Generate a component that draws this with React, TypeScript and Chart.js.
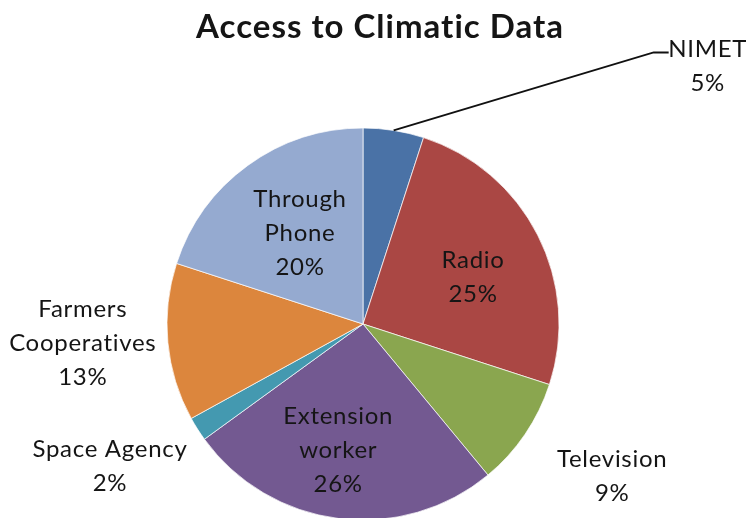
import React, { useEffect, useRef } from "react";
import { Chart, registerables } from "chart.js";

Chart.register(...registerables);

const titleText = "Access to Climatic Data";
const categories = ["NIMET", "Radio", "Television", "Extension worker", "Space Agency", "Farmers Cooperatives", "Through Phone"];
const nameLines = [["NIMET"], ["Radio"], ["Television"], ["Extension", "worker"], ["Space Agency"], ["Farmers", "Cooperatives"], ["Through", "Phone"]];
const values = [5, 25, 9, 26, 2, 13, 20];
const colors = ["#4A72A6", "#AA4744", "#8AA64F", "#735991", "#4499B0", "#DC863D", "#95AAD0"];

// label placement: fraction of radius along slice mid-angle, plus small pixel nudges
const labelLayout = [
  { f: 1.0, dx: 0, dy: 0, leader: true },
  { f: 0.63, dx: 0, dy: 8.5 },
  { f: 1.537, dx: 0, dy: -18 },
  { f: 0.643, dx: -9, dy: 0 },
  { f: 1.529, dx: 0, dy: -19.5 },
  { f: 1.436, dx: 0, dy: -8 },
  { f: 0.547, dx: 0, dy: -5 },
];

const FONT = "Lato, 'Open Sans', sans-serif";
const LINE_H = 34;

const labelPlugin = {
  id: "pieLabels",
  afterDraw(chart: any) {
    const ctx = chart.ctx;
    const meta = chart.getDatasetMeta(0);
    ctx.save();
    // title
    ctx.fillStyle = "#151515";
    ctx.font = `bold 33px ${FONT}`;
    ctx.textAlign = "center";
    ctx.textBaseline = "alphabetic";
    (ctx as any).letterSpacing = "1px";
    ctx.fillText(titleText, 380, 38);

    ctx.font = `24px ${FONT}`;
    (ctx as any).letterSpacing = "0.7px";
    meta.data.forEach((arc: any, i: number) => {
      const { x, y, startAngle, endAngle, outerRadius } = arc.getProps(["x", "y", "startAngle", "endAngle", "outerRadius"], true);
      const mid = (startAngle + endAngle) / 2;
      const lay = labelLayout[i];
      const lines = [...nameLines[i], `${values[i]}%`];
      let cx: number, cy: number;
      if (lay.leader) {
        const sx = x + Math.cos(mid) * outerRadius;
        const sy = y + Math.sin(mid) * outerRadius;
        const ex = sx + 260;
        const ey = sy - 78;
        ctx.strokeStyle = "#111";
        ctx.lineWidth = 2;
        ctx.beginPath();
        ctx.moveTo(sx, sy);
        ctx.lineTo(ex, ey);
        ctx.lineTo(ex + 15, ey);
        ctx.stroke();
        cx = ex + 54;
        cy = ey + 12.5;
      } else {
        cx = x + Math.cos(mid) * outerRadius * lay.f + lay.dx;
        cy = y + Math.sin(mid) * outerRadius * lay.f + lay.dy;
      }
      ctx.fillStyle = "#151515";
      const n = lines.length;
      lines.forEach((t, j) => {
        const by = cy - ((n - 1) / 2) * LINE_H + j * LINE_H + 9;
        ctx.fillText(t, cx, by);
      });
    });
    ctx.restore();
  },
};

export default function App() {
  const ref = useRef<HTMLCanvasElement>(null);
  useEffect(() => {
    if (!ref.current) return;
    const chart = new Chart(ref.current, {
      type: "pie",
      data: {
        labels: categories,
        datasets: [
          {
            data: values,
            backgroundColor: colors,
            borderColor: "rgba(255,255,255,0.7)",
            borderWidth: 1,
          },
        ],
      },
      options: {
        responsive: false,
        animation: false,
        radius: 196,
        layout: { padding: { left: 0, right: 20, top: 130, bottom: 0 } },
        plugins: {
          legend: { display: false },
          tooltip: { enabled: false },
          title: { display: false },
        },
      },
      plugins: [labelPlugin],
    });
    return () => chart.destroy();
  }, []);
  return (
    <div style={{ position: "absolute", left: 0, top: 0, width: 746, height: 518, background: "#fff" }}>
      <canvas ref={ref} width={746} height={518} style={{ display: "block" }} />
    </div>
  );
}
